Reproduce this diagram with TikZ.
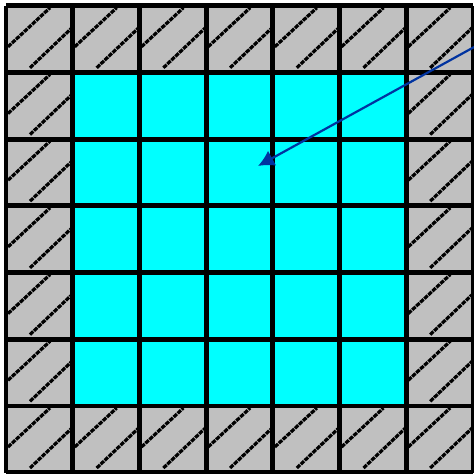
\documentclass[tikz,border=0pt]{standalone}
\usetikzlibrary{arrows.meta}
\definecolor{cellgray}{RGB}{192,192,192}
\definecolor{cellcyan}{RGB}{0,255,255}
\definecolor{arrowblue}{RGB}{0,51,160}

\begin{document}
\begin{tikzpicture}[>=Latex,
    hatch/.style={line width=0.032cm,dash pattern=on 0.045cm off 0.01cm},
    gridline/.style={line width=0.048cm},
    pointer/.style={->,arrowblue,line width=0.022cm,
        arrows={-Latex[length=0.16cm,width=0.17cm]}}]
    \def\s{0.667} % side of one cell
    \useasboundingbox (0,0) rectangle (4.73,4.74);

    \begin{scope}[shift={(0.06,0.013)}]
        %======================================================
        % gray cells with hatching
        %======================================================
        \fill[cellgray] (0,0) rectangle (7*\s,7*\s);
        \foreach \i in {0,...,6}{
            \foreach \j in {0,...,6}{
                \draw[hatch] ({\i*\s+0.02},{\j*\s+0.257}) -- ++(0.42,0.39);
                \draw[hatch] ({\i*\s+0.24},{\j*\s+0.047}) -- ++(0.42,0.40);
            }
        }

        %======================================================
        % inner cyan block
        %======================================================
        \fill[cellcyan] (\s,\s) rectangle (6*\s,6*\s);

        % grid lines
        \foreach \k in {0,...,7}{
            \draw[gridline] (\k*\s,0) -- (\k*\s,7*\s);
            \draw[gridline] (0,\k*\s) -- (7*\s,\k*\s);
        }
    \end{scope}

    % arrow
    \coordinate (start) at (4.76,4.28);
    \coordinate (tip) at (2.58,3.08);
    \draw[pointer] (start) -- (tip);
\end{tikzpicture}
\end{document}
